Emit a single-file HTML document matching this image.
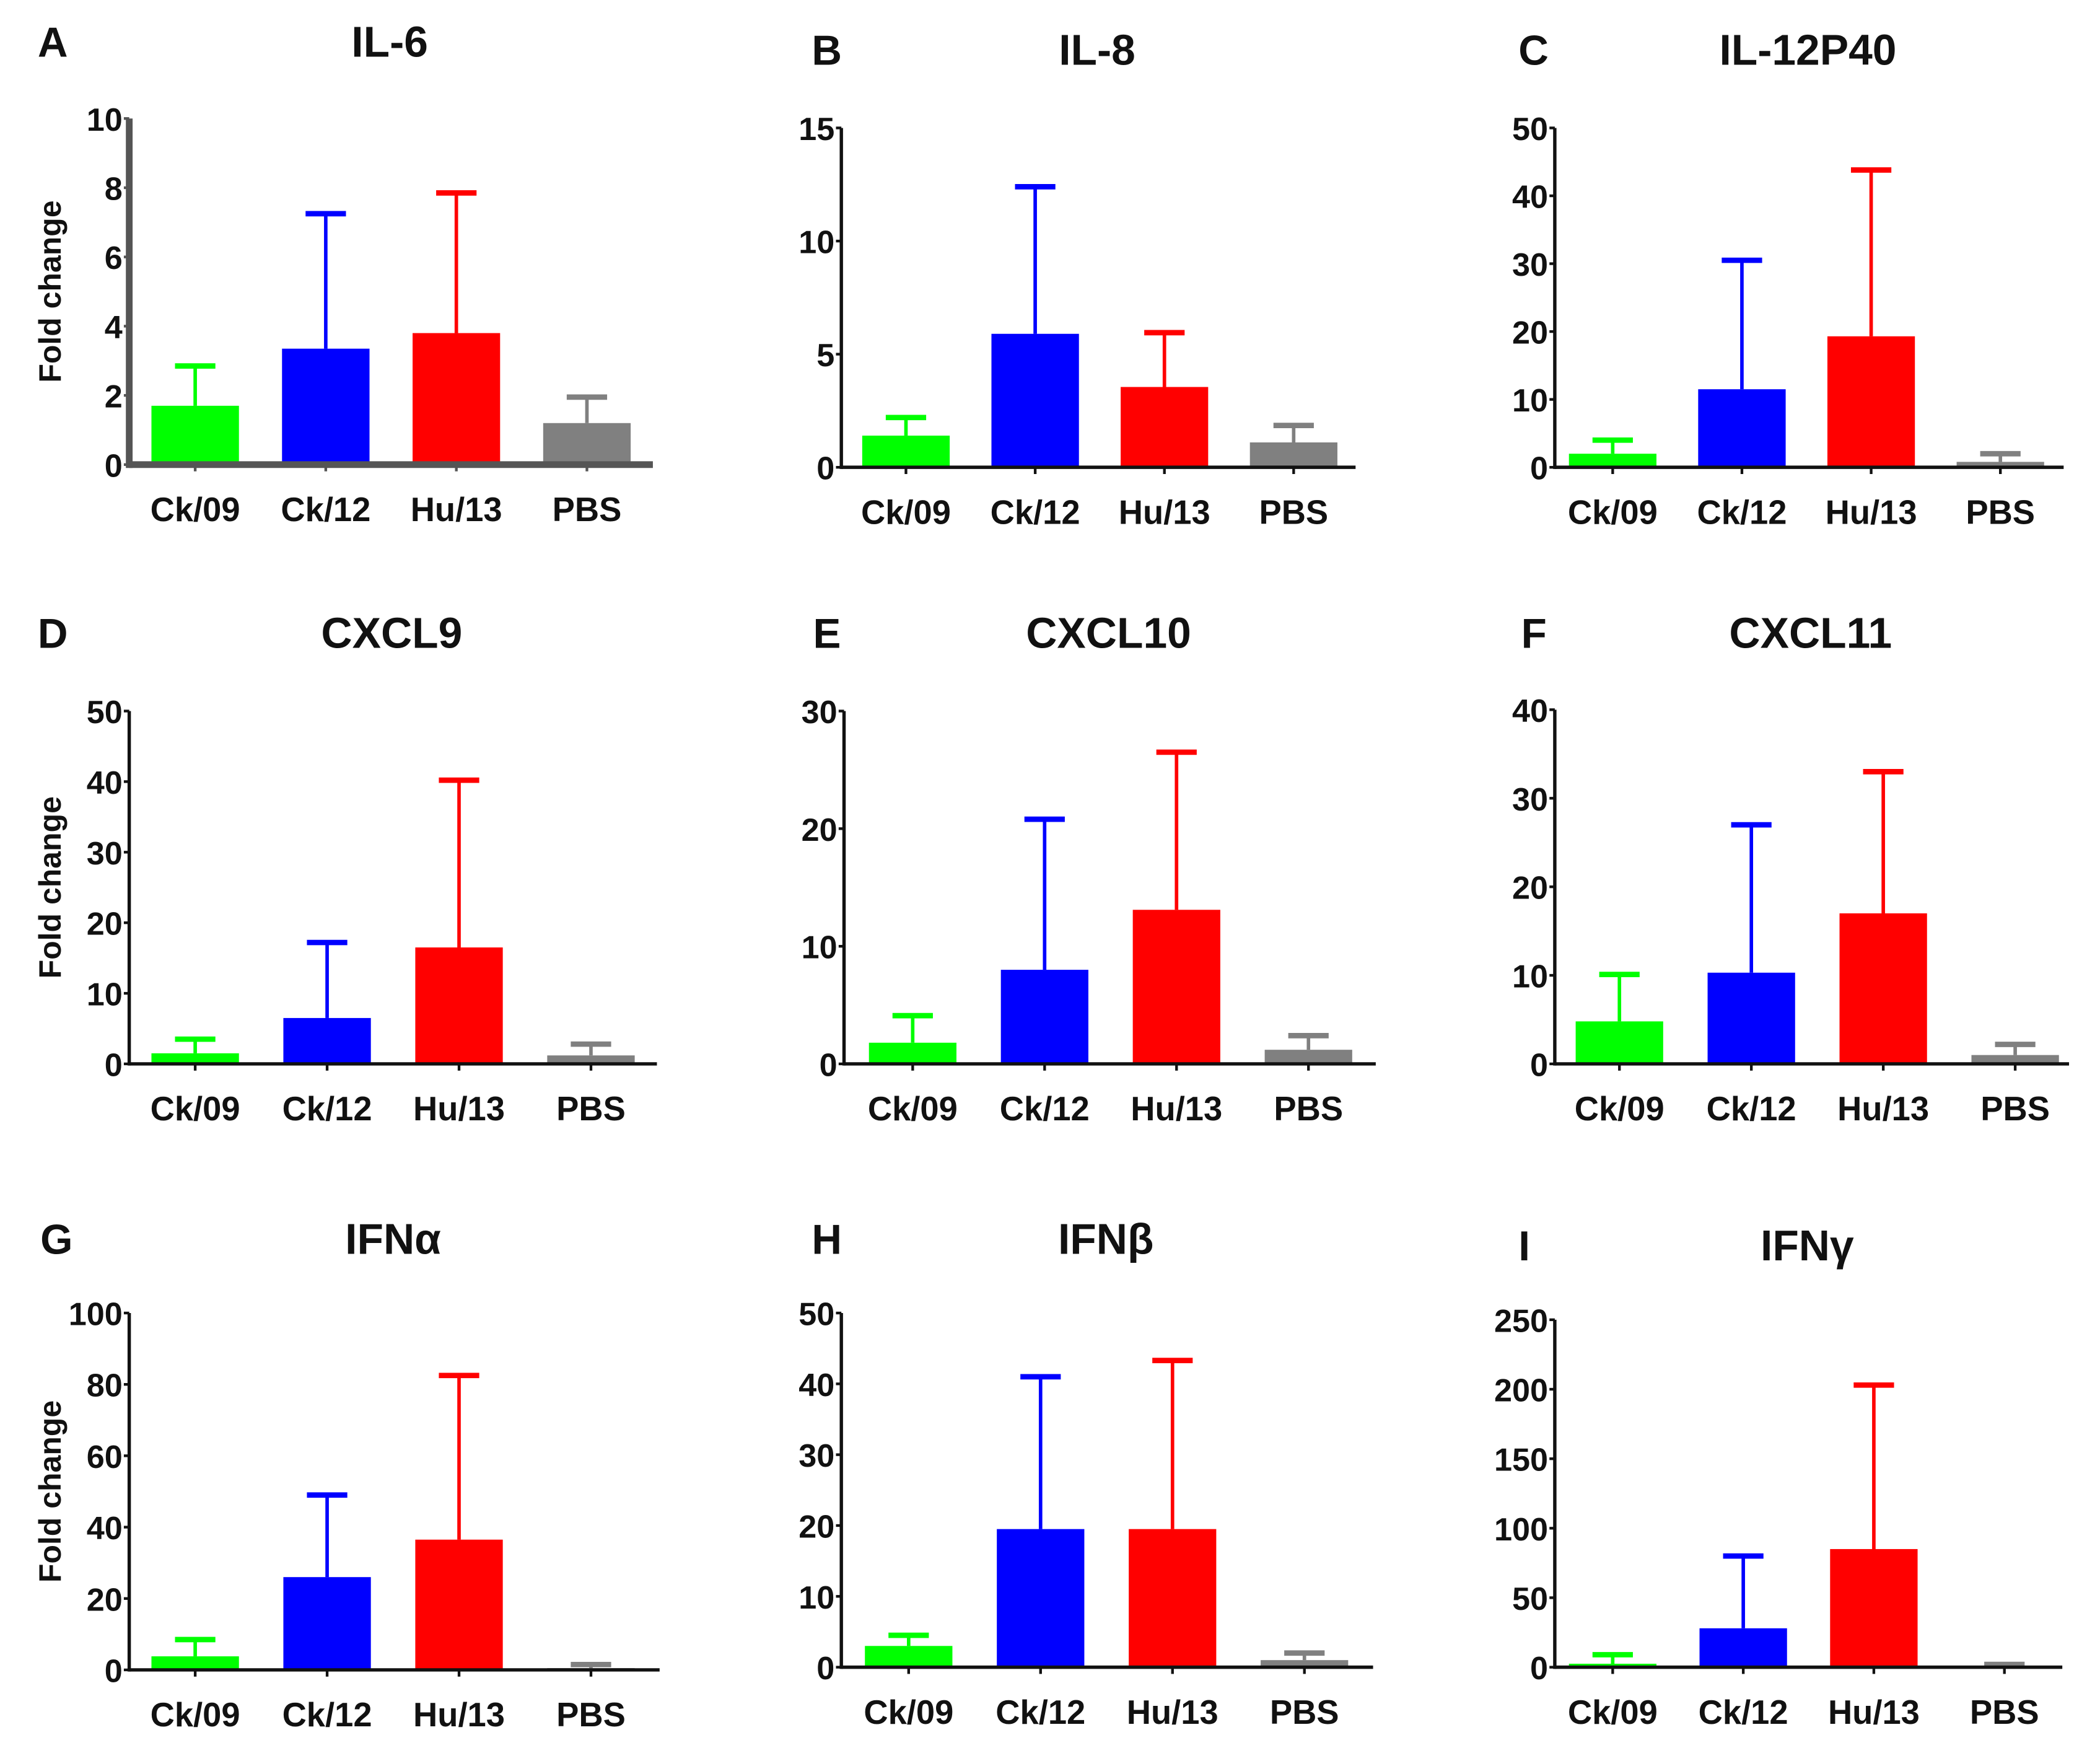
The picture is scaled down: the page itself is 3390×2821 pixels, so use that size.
<!DOCTYPE html>
<html><head><meta charset="utf-8"><style>
html,body{margin:0;padding:0;background:#fff}
svg{display:block}
text{font-family:"Liberation Sans",Arial,sans-serif;font-weight:bold;fill:#111}
</style></head><body>
<svg id="fig" width="3390" height="2821" viewBox="0 0 1560 1298" preserveAspectRatio="none" xmlns="http://www.w3.org/2000/svg"></svg>
<script>
const categories = ["Ck/09","Ck/12","Hu/13","PBS"];
const colors = ["#00ff00","#0000ff","#ff0000","#808080"];
const panelTitles = ["IL-6","IL-8","IL-12P40","CXCL9","CXCL10","CXCL11","IFN\u03b1","IFN\u03b2","IFN\u03b3"];
const panelLetters = ["A","B","C","D","E","F","G","H","I"];
const meanIL6 = [1.7,3.35,3.8,1.2];      const errIL6 = [2.85,7.25,7.85,1.95];
const meanIL8 = [1.4,5.9,3.55,1.1];      const errIL8 = [2.2,12.4,5.95,1.85];
const meanIL12 = [2.0,11.5,19.3,0.8];    const errIL12 = [4.0,30.5,43.8,2.0];
const meanCXCL9 = [1.5,6.5,16.5,1.2];    const errCXCL9 = [3.5,17.2,40.2,2.8];
const meanCXCL10 = [1.8,8.0,13.1,1.2];   const errCXCL10 = [4.1,20.8,26.5,2.4];
const meanCXCL11 = [4.8,10.3,17.0,1.0];  const errCXCL11 = [10.1,27.0,33.0,2.2];
const meanIFNa = [3.8,26,36.5,0.5];      const errIFNa = [8.5,49,82.5,1.5];
const meanIFNb = [3.0,19.5,19.5,1.0];    const errIFNb = [4.5,41,43.3,2.0];
const meanIFNg = [2.5,28,85,0.5];        const errIFNg = [9,80,203,2];
const ticksIL6 = [0,2,4,6,8,10];
const ticksIL8 = [0,5,10,15];
const ticksIL12 = [0,10,20,30,40,50];
const ticksCXCL9 = [0,10,20,30,40,50];
const ticksCXCL10 = [0,10,20,30];
const ticksCXCL11 = [0,10,20,30,40];
const ticksIFNa = [0,20,40,60,80,100];
const ticksIFNb = [0,10,20,30,40,50];
const ticksIFNg = [0,50,100,150,200,250];

const means=[meanIL6,meanIL8,meanIL12,meanCXCL9,meanCXCL10,meanCXCL11,meanIFNa,meanIFNb,meanIFNg];
const errs=[errIL6,errIL8,errIL12,errCXCL9,errCXCL10,errCXCL11,errIFNa,errIFNb,errIFNg];
const ticks=[ticksIL6,ticksIL8,ticksIL12,ticksCXCL9,ticksCXCL10,ticksCXCL11,ticksIFNa,ticksIFNb,ticksIFNg];
const L=[
 {ax:96,top:88,y0:345,end:485,c0:145,dc:97,ty:46,lx:28},
 {ax:625,top:95,y0:347,end:1007,c0:673,dc:96,ty:52,lx:603},
 {ax:1155,top:95,y0:347,end:1533,c0:1198,dc:96,ty:52,lx:1128},
 {ax:96,top:528,y0:790,end:488,c0:145,dc:98,ty:485,lx:28},
 {ax:627,top:528,y0:790,end:1022,c0:678,dc:98,ty:485,lx:604},
 {ax:1155,top:527,y0:790,end:1537,c0:1203,dc:98,ty:485,lx:1130},
 {ax:96,top:975,y0:1240,end:490,c0:145,dc:98,ty:935,lx:30},
 {ax:625,top:975,y0:1238,end:1020,c0:675,dc:98,ty:935,lx:603},
 {ax:1155,top:980,y0:1238,end:1532,c0:1198,dc:97,ty:940,lx:1128}
];
const NS="http://www.w3.org/2000/svg";
const svg=document.getElementById('fig');
function mk(tag,attrs,parent){const e=document.createElementNS(NS,tag);for(const k in attrs)e.setAttribute(k,attrs[k]);(parent||svg).appendChild(e);return e;}
for(let p=0;p<9;p++){
  const g=mk('g',{});
  
  
  const l=L[p], tk=ticks[p], vmax=tk[tk.length-1];
  const y=v=>l.y0-(v/vmax)*(l.y0-l.top);
  const x=i=>l.c0+i*l.dc;
  const bw=65;
  const axc = p===0?'#555':'#111', aw = p===0?5:2.5;
  const lt=mk('text',{x:l.lx,y:l.ty-4,'font-size':31},g);lt.textContent=panelLetters[p];
  
  
  const tt=mk('text',{x:(l.ax+l.end)/2-1,y:l.ty-4,'font-size':32,'text-anchor':'middle'},g);tt.textContent=panelTitles[p];
  
  
  for(let i=0;i<4;i++){
    const cx=x(i), m=means[p][i], e=errs[p][i];
    const ln=mk('line',{x1:cx,x2:cx,y1:y(m),y2:y(e),stroke:colors[i],'stroke-width':2.6},g);
    
    
    const cp=mk('line',{x1:cx-15,x2:cx+15,y1:y(e),y2:y(e),stroke:colors[i],'stroke-width':4},g);
    
    
    const r=mk('rect',{x:cx-bw/2,y:y(m),width:bw,height:l.y0-y(m),fill:colors[i]},g);
    
    
    const xl=mk('text',{x:cx,y:l.y0+42,'font-size':25,'text-anchor':'middle'},g);xl.textContent=categories[i];
    
    
    mk('line',{x1:cx,x2:cx,y1:l.y0,y2:l.y0+5,stroke:axc,'stroke-width':2},g);
  }
  const ya=mk('line',{x1:l.ax,x2:l.ax,y1:l.top,y2:l.y0+aw/2,stroke:axc,'stroke-width':aw},g);
  
  
  const xa=mk('line',{x1:l.ax,x2:l.end,y1:l.y0,y2:l.y0,stroke:axc,'stroke-width':aw},g);
  
  
  for(const t of tk){
    mk('line',{x1:l.ax-4,x2:l.ax,y1:y(t),y2:y(t),stroke:axc,'stroke-width':2},g);
    const tl=mk('text',{x:l.ax-5,y:y(t)+9,'font-size':24,'text-anchor':'end'},g);tl.textContent=t;
    
    
  }
  if(p%3===0){
    const cy=(l.top+l.y0)/2;
    const yl=mk('text',{x:0,y:0,'font-size':23,'text-anchor':'middle',transform:`translate(45,${cy}) rotate(-90)`},g);
    yl.textContent='Fold change';
    
    
  }
}
</script>
</body></html>
